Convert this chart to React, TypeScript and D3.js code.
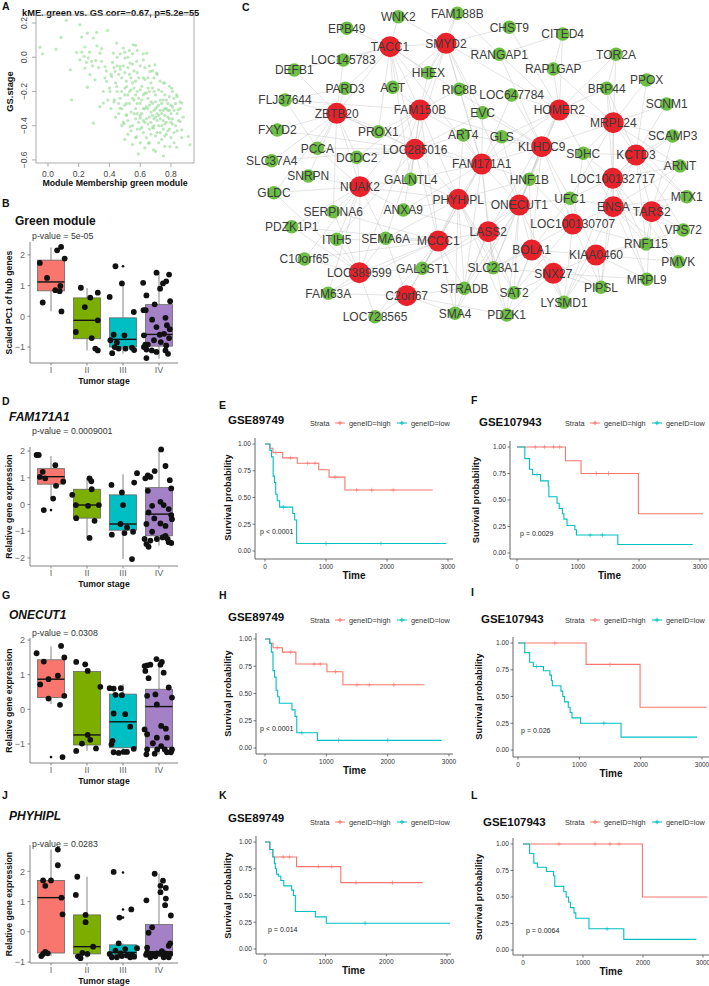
import React from "react";
import * as d3 from "d3";

const FONT = "'Liberation Sans', Arial, Helvetica, sans-serif";

// ---------- Panel A: module membership vs gene significance ----------
const MM_GS: [number, number][] = [
  [-0.052,0.058],[-0.035,0.02],[0.052,0.048],[0.085,0.116],[0.119,0.216],[0.208,0.19],[0.219,0.118],[0.145,-0.073],
  [0.154,-0.249],[0.256,0.141],[0.317,0.145],[0.319,0.067],[0.295,0.112],[0.388,0.157],[0.187,0.028],[0.208,-0.015],
  [0.234,0.005],[0.262,-0.005],[0.284,-0.024],[0.241,-0.063],[0.273,-0.102],[0.256,-0.175],[0.306,-0.132],[0.338,0.024],
  [0.349,-0.024],[0.371,-0.054],[0.382,-0.141],[0.338,-0.288],[0.36,-0.268],[0.295,-0.385],[0.425,0.024],[0.447,0.083],
  [0.49,0.054],[0.555,0.073],[0.501,-0.005],[0.534,-0.034],[0.469,-0.054],[0.436,-0.083],[0.414,-0.112],[0.447,-0.171],
  [0.403,-0.2],[0.431,-0.249],[0.469,-0.298],[0.512,-0.337],[0.495,-0.389],[0.534,-0.405],[0.599,-0.356],[0.577,-0.463],
  [0.653,-0.502],[0.686,-0.415],[0.588,-0.565],[0.751,-0.577],[0.686,-0.541],[0.794,-0.522],[0.837,-0.526],[0.913,-0.463],
  [0.924,-0.512],[0.87,-0.424],[0.859,-0.376],[0.848,-0.307],[0.87,-0.268],[0.837,-0.22],[0.805,-0.181],[0.751,-0.151],
  [0.707,-0.093],[0.696,-0.044],[0.664,-0.083],[0.62,-0.015],[0.577,-0.024],[0.642,0.024],[0.512,-0.171],
  [0.48,-0.12],[0.5,-0.18],[0.52,-0.22],[0.53,-0.1],[0.55,-0.15],[0.56,-0.25],[0.57,-0.3],[0.58,-0.2],[0.59,-0.12],
  [0.6,-0.27],[0.61,-0.33],[0.62,-0.22],[0.63,-0.38],[0.64,-0.29],[0.65,-0.18],[0.66,-0.35],[0.67,-0.26],[0.68,-0.41],
  [0.69,-0.31],[0.7,-0.22],[0.71,-0.37],[0.72,-0.28],[0.73,-0.44],[0.74,-0.33],[0.75,-0.25],[0.76,-0.39],[0.77,-0.3],
  [0.78,-0.35],[0.79,-0.42],[0.8,-0.28],[0.81,-0.36],[0.82,-0.31],[0.83,-0.4],[0.84,-0.33],
  [0.5,-0.28],[0.51,-0.34],[0.52,-0.06],[0.54,-0.32],[0.55,-0.4],[0.56,-0.08],[0.57,-0.36],[0.58,-0.42],[0.6,-0.05],
  [0.61,-0.17],[0.62,-0.44],[0.63,-0.13],[0.64,-0.47],[0.65,-0.24],[0.66,-0.42],[0.67,-0.15],[0.68,-0.34],[0.69,-0.2],
  [0.7,-0.46],[0.71,-0.29],[0.72,-0.19],[0.73,-0.36],[0.74,-0.48],[0.75,-0.31],[0.76,-0.22],[0.77,-0.45],[0.78,-0.27],
  [0.79,-0.36],[0.8,-0.47],[0.81,-0.39],[0.82,-0.24],[0.85,-0.37],
  [0.44,-0.15],[0.45,-0.2],[0.46,-0.1],[0.47,-0.24],[0.48,-0.3],[0.49,-0.05],[0.5,-0.22],[0.51,-0.14],[0.52,-0.37],
  [0.53,-0.27],[0.54,-0.19],[0.55,-0.04],[0.56,-0.33],[0.57,-0.14],[0.58,-0.27],[0.59,-0.38],[0.6,-0.19],[0.61,-0.25],
  [0.62,-0.3],[0.63,-0.21],[0.64,-0.36],[0.65,-0.3],[0.66,-0.2],[0.67,-0.38],[0.68,-0.27],[0.69,-0.4],[0.7,-0.3],
  [0.71,-0.44],[0.72,-0.34],[0.73,-0.25],[0.74,-0.4],[0.75,-0.37],[0.76,-0.3],[0.77,-0.38],[0.78,-0.43],[0.79,-0.31],
  [0.8,-0.38],[0.83,-0.27],
  [0.42,-0.03],[0.43,-0.26],[0.46,-0.33],[0.47,-0.07],[0.48,-0.2],[0.49,-0.38],[0.5,-0.09],[0.51,-0.27],[0.53,-0.2],
  [0.54,-0.43],[0.55,-0.24],[0.57,-0.22],[0.58,-0.33],[0.59,-0.24],[0.6,-0.34],[0.61,-0.41],[0.62,-0.12],[0.63,-0.3],
  [0.64,-0.21],[0.65,-0.39],[0.66,-0.28],[0.67,-0.32],[0.68,-0.18],[0.69,-0.36],[0.7,-0.26],[0.71,-0.33],[0.72,-0.4],
  [0.73,-0.31],[0.74,-0.27],[0.75,-0.42],[0.76,-0.34],[0.77,-0.25],[0.78,-0.31],[0.8,-0.33],[0.81,-0.29],[0.84,-0.43],
  [0.38,-0.08],[0.4,-0.18],[0.41,-0.3],[0.45,-0.05],[0.46,-0.27],[0.52,0.0],[0.54,-0.12],[0.56,-0.18],[0.58,-0.09],
  [0.6,-0.42],[0.62,-0.37],[0.63,-0.06],[0.65,-0.12],[0.67,-0.45],[0.69,-0.12],[0.7,-0.35],[0.72,-0.5],[0.74,-0.2],
  [0.76,-0.46],[0.79,-0.23],[0.82,-0.44],[0.86,-0.3],[0.88,-0.35],[0.57,-0.47],[0.66,-0.5],[0.6,-0.5],[0.52,-0.45],
  [0.48,-0.4],[0.44,-0.35],[0.53,0.04],[0.57,0.07],
  [0.35,0.05],[0.33,-0.06],[0.37,-0.12],[0.31,-0.02],[0.27,0.03],[0.25,-0.03],[0.22,0.03],[0.24,0.06],[0.29,-0.05],
  [0.36,-0.2],[0.39,-0.25],[0.41,-0.1],[0.43,-0.06],[0.45,0.0],[0.47,0.02],[0.5,0.03],[0.55,0.02],[0.58,0.04],
  [0.62,0.02],[0.66,-0.05],[0.68,-0.08],[0.71,-0.1],[0.73,-0.14],[0.76,-0.15],[0.79,-0.17],[0.81,-0.2],[0.84,-0.23],
  [0.86,-0.26],[0.5,-0.48],[0.55,-0.51],[0.63,-0.53],[0.7,-0.55],[0.76,-0.52],[0.82,-0.5],[0.87,-0.47]
];
const A_XTICKS = [0, 0.2, 0.4, 0.6, 0.8];
const A_YTICKS = [-0.6, -0.4, -0.2, 0.0, 0.2];

// ---------- Box plots (B, D, G, J) ----------
const STAGES = ["I", "II", "III", "IV"];
const STAGE_COLORS = ["#F8766D", "#7CAE00", "#00BFC4", "#A481C6"];
// [lowerWhisker, q1, median, q3, upperWhisker]
const B_BOX = [[0.16,0.83,1.12,1.83,2.24],[-1.11,-0.73,-0.13,0.6,0.92],[-1.22,-1.0,-0.75,-0.05,1.07],[-1.38,-0.97,-0.59,0.38,1.45]];
const B_OUT: [number, number][] = [[2,1.63]];
// [stage, value, jitter]
const B_PTS: [number, number, number][] = [
  [0,1.74,-0.31],[0,1.25,-0.11],[0,2.15,0.17],[0,2.26,0.28],[0,1.88,0.38],[0,0.99,0.26],[0,0.85,0.12],[0,0.82,0.24],[0,0.45,-0.23],[0,0.16,0.29],
  [1,0.93,-0.17],[1,0.77,0.3],[1,0.3,-0.06],[1,0.61,0.09],[1,-0.13,0.3],[1,-0.51,-0.31],[1,-0.71,0.13],[1,-1.11,0.3],[1,-1.05,0.23],
  [2,1.63,-0.21],[2,0.63,-0.37],[2,1.07,-0.03],[2,0.14,0.3],[2,-0.6,-0.26],[2,-0.62,0.04],[2,-0.78,-0.35],[2,-0.85,-0.17],[2,-1.0,-0.23],[2,-1.05,-0.12],[2,-1.05,0.07],[2,-1.2,-0.3],[2,-1.02,0.25],[2,-1.1,0.31],
  [3,1.09,-0.44],[3,1.42,-0.07],[3,1.36,0.28],[3,1.07,0.11],[3,1.14,0.2],[3,0.9,0.03],[3,0.68,-0.35],[3,0.49,0.31],[3,0.2,-0.43],[3,0.2,-0.37],[3,0.39,-0.12],
  [3,-0.11,-0.19],[3,-0.05,0.18],[3,-0.29,0.22],[3,-0.35,-0.07],[3,-0.62,-0.42],[3,-0.6,0.02],[3,-0.42,0.3],[3,-0.57,0.14],[3,-0.71,0.28],[3,-0.92,-0.38],
  [3,-0.92,-0.31],[3,-0.78,-0.14],[3,-0.84,0.05],[3,-0.95,0.2],[3,-1.08,-0.35],[3,-1.11,-0.2],[3,-1.16,-0.07],[3,-1.11,0.18],[3,-1.22,0.25],[3,-1.36,-0.35],[3,-1.0,-0.42]
];
const D_BOX = [[0.22,0.76,1.04,1.34,1.81],[-1.25,-0.51,-0.02,0.57,1.0],[-2.04,-0.96,-0.73,0.36,1.13],[-1.54,-1.17,-0.36,0.63,2.06]];
const D_OUT: [number, number][] = [[0,-0.21]];
const D_PTS: [number, number, number][] = [
  [0,1.85,-0.4],[0,1.85,-0.34],[0,1.47,0.12],[0,1.22,-0.23],[0,1.03,-0.31],[0,0.98,-0.16],[0,0.86,0.34],[0,0.7,0.14],[0,0.22,0.06],[0,-0.21,-0.2],
  [1,0.98,0.07],[1,0.87,0.12],[1,0.57,0.13],[1,0.36,-0.41],[1,-0.02,-0.31],[1,-0.05,0.03],[1,-0.02,0.33],[1,-0.51,-0.3],[1,-0.61,0.21],[1,-1.25,0.07],
  [2,1.17,0.39],[2,0.73,-0.32],[2,0.82,0.31],[2,0.45,-0.03],[2,-0.02,0],[2,-0.73,-0.07],[2,-0.86,0.11],[2,-1.02,0.28],[2,-1.13,-0.31],[2,-1.07,0.04],[2,-2.04,0.25],
  [3,2.06,0.06],[3,1.25,-0.12],[3,1.09,-0.31],[3,1.03,-0.24],[3,0.98,-0.38],[3,1.44,0.18],[3,0.91,0.3],[3,0.6,0.34],[3,0.51,-0.31],[3,0.1,0.04],[3,-0.02,0.13],
  [3,-0.05,-0.19],[3,-0.3,-0.29],[3,-0.17,0.27],[3,-0.4,0.34],[3,-0.52,-0.13],[3,-0.55,0.36],[3,-0.73,-0.35],[3,-0.71,0.04],[3,-0.8,0.18],[3,-1.02,-0.19],
  [3,-1.17,0.18],[3,-1.23,0.1],[3,-1.29,-0.06],[3,-1.35,-0.24],[3,-1.48,-0.35],[3,-1.29,0.24],[3,-1.44,0.34],[3,-1.58,-0.29],[3,-1.29,-0.4],[3,-1.41,0.27]
];
const G_BOX = [[0.15,0.34,0.87,1.43,1.82],[-1.2,-1.03,-0.74,1.09,1.09],[-1.24,-1.11,-0.36,0.44,0.73],[-1.3,-1.11,0.08,0.58,1.45]];
const G_OUT: [number, number][] = [[0,-1.38]];
const G_PTS: [number, number, number][] = [
  [0,1.62,-0.4],[0,1.83,0.28],[0,1.5,0.37],[0,1.38,-0.2],[0,0.97,0.19],[0,0.87,-0.07],[0,0.72,-0.3],[0,0.39,0.37],[0,0.31,-0.07],[0,0.13,0.25],[0,-1.38,0.32],
  [1,1.37,-0.3],[1,1.3,-0.05],[1,1.11,0.02],[1,0.65,0.37],[1,-0.74,0.02],[1,-0.88,0.09],[1,-0.99,-0.14],[1,-1.13,0.25],[1,-1.2,-0.3],
  [2,0.61,-0.37],[2,0.6,-0.26],[2,0.61,-0.06],[2,0.42,-0.21],[2,0.41,-0.03],[2,-0.12,-0.26],[2,-0.14,0.06],[2,-0.5,0.2],[2,-0.91,-0.29],[2,-1.01,-0.32],
  [2,-1.24,-0.26],[2,-1.26,-0.12],[2,-1.23,0.02],[2,-1.23,0.11],[2,-1.14,0.3],
  [3,1.45,-0.07],[3,1.37,0.08],[3,1.29,0.04],[3,1.06,0.13],[3,1.29,-0.24],[3,1.11,-0.38],[3,1.25,-0.4],[3,1.27,-0.33],[3,0.9,-0.29],[3,0.63,0.27],
  [3,0.34,0.36],[3,0.43,-0.1],[3,0.39,-0.33],[3,0.14,-0.06],[3,-0.58,-0.4],[3,-0.72,-0.33],[3,-0.48,0.06],[3,-0.56,0.19],[3,-0.82,0.22],[3,-0.82,-0.06],
  [3,-0.98,-0.17],[3,-1.06,0.06],[3,-1.16,-0.33],[3,-1.16,0.16],[3,-1.24,0.33],[3,-1.16,0.36],[3,-1.3,-0.35],[3,-1.28,-0.12],[3,-1.24,0.22],[3,-1.16,-0.05]
];
const J_BOX = [[-0.8,-0.7,1.13,1.7,2.72],[-0.87,-0.73,-0.49,0.56,1.82],[-0.84,-0.76,-0.68,-0.43,-0.38],[-0.84,-0.78,-0.66,0.24,1.92]];
const J_OUT: [number, number][] = [[2,1.96],[2,0.74],[2,0.47]];
const J_PTS: [number, number, number][] = [
  [0,2.72,0.19],[0,2.2,0.19],[0,1.7,-0.22],[0,1.7,0],[0,1.52,-0.16],[0,1.13,0.29],[0,0.58,0.32],[0,-0.66,-0.16],[0,-0.71,-0.09],[0,-0.73,-0.22],[0,-0.8,-0.27],
  [1,1.82,-0.27],[1,1.22,-0.31],[1,0.56,-0.04],[1,0.32,-0.04],[1,-0.49,0.17],[1,-0.7,-0.13],[1,-0.81,-0.25],[1,-0.87,-0.18],[1,-0.73,0.01],
  [2,1.98,-0.26],[2,0.74,0.23],[2,0.47,-0.1],[2,-0.38,-0.12],[2,-0.62,-0.21],[2,-0.57,0.06],[2,-0.54,0.39],[2,-0.84,-0.31],[2,-0.84,-0.17],[2,-0.8,-0.03],
  [2,-0.78,0.11],[2,-0.76,0.25],[2,-0.82,0.31],[2,-0.84,0.2],[2,-0.71,-0.07],[2,-0.73,-0.37],
  [3,1.92,-0.12],[3,1.69,0.11],[3,1.52,0.04],[3,1.45,0.19],[3,1.31,0.04],[3,1.04,-0.35],[3,1.1,0.19],[3,0.88,0.17],[3,0.54,0.33],[3,0.15,-0.19],
  [3,-0.03,-0.29],[3,-0.38,0.31],[3,-0.46,0.27],[3,-0.52,-0.33],[3,-0.68,-0.33],[3,-0.73,-0.19],[3,-0.71,-0.06],[3,-0.73,0.04],[3,-0.71,0.17],[3,-0.73,0.31],
  [3,-0.84,-0.24],[3,-0.81,-0.1],[3,-0.84,0.13],[3,-0.84,0.27],[3,-0.76,-0.36],[3,-0.64,0.08]
];

// ---------- Panel C: co-expression network ----------
// [gene, layoutX, layoutY, isHub]
const NODES: [string, number, number, number][] = [
  ["WNK2",158.3,16.7,0],["FAM188B",217.3,13.3,0],["EPB49",106.7,28.3,0],["CHST9",269.3,27.3,0],["CITED4",322.7,34,0],
  ["TACC1",150,46.7,1],["SMYD2",206,43.3,1],["LOC145783",103.3,60,0],["RANGAP1",259.3,54.3,0],["TOR2A",376,54.3,0],
  ["DEFB1",54.3,70,0],["HHEX",188.3,72.7,0],["RAP1GAP",313.3,69,0],["PPOX",406.7,80,0],["PARD3",105,88.3,0],
  ["AGT",152.7,87.3,0],["RIC8B",219.3,89.3,0],["BRP44",366.7,88.3,0],["LOC647784",271.7,95,0],["FLJ37644",45,100,0],
  ["ZBTB20",96.7,113.3,1],["FAM150B",180,110,1],["EVC",242.7,112.7,0],["HOMER2",319.3,110,1],["SCNM1",426.7,104,0],
  ["MRPL24",373.3,122.7,1],["FXYD2",37.3,130,0],["PROX1",138.3,131.7,0],["ART4",223.3,135,0],["GLS",261.7,136.7,0],
  ["SCAMP3",432.7,136,0],["PCCA",77.3,148.3,0],["LOC285016",175,149.3,1],["KLHDC9",301.7,146.7,1],["SDHC",343.3,153.3,0],
  ["KCTD3",396,155,1],["SLC37A4",31.7,160.7,0],["DCDC2",116.7,157.3,0],["FAM171A1",241.7,164,1],["ARNT",440,166,0],
  ["SNRPN",68.3,176,0],["GALNTL4",170.7,179.3,0],["HNF1B",289.3,179.3,0],["LOC100132717",372.7,178.3,1],["NUAK2",120,186.7,1],
  ["GLDC",34,192.7,0],["UFC1",330,198.3,0],["MTX1",446.7,196.7,0],["PHYHIPL",218.3,199.3,1],["ONECUT1",279.3,205,1],
  ["ENSA",373.3,206.7,1],["TARS2",411.7,211.7,1],["SERPINA6",93.3,211.7,0],["ANXA9",163.3,210,0],["PDZK1P1",51.7,226.7,0],
  ["LOC100130707",332.7,224,1],["LASS2",248.3,231.7,1],["VPS72",443.3,230,0],["ITIH5",96.7,239.3,0],["SEMA6A",145.7,238.3,0],
  ["MCCC1",198.3,241,1],["RNF115",406,244,0],["BOLA1",291.7,250,1],["KIAA0460",356,255,1],["C10orf65",64.3,259,0],
  ["PMVK",438.3,261.7,0],["LOC389599",119.3,272.7,1],["GAL3ST1",182.3,268.3,0],["SLC23A1",253.3,267.7,0],["SNX27",313.3,273.3,1],
  ["MRPL9",406.7,279.3,0],["PIPSL",361,287.3,0],["FAM63A",88.3,293.3,0],["C2orf67",166.7,295.7,1],["STRADB",224.3,288.3,0],
  ["SAT2",274,292.7,0],["LYSMD1",324,302.3,0],["LOC728565",135,316.7,0],["SMA4",215,313.3,0],["PDZK1",266.7,315,0]
];
// [node, neighbours]
const EDGES: [string, string][] = [
  ["TACC1","WNK2 EPB49 LOC145783 HHEX AGT PARD3 FAM150B ZBTB20 PROX1 LOC285016 FAM171A1 GALNTL4 SMYD2 KLHDC9 DEFB1"],
  ["SMYD2","WNK2 FAM188B CHST9 RANGAP1 HHEX RIC8B FAM150B LOC285016 FAM171A1 ONECUT1 EVC HOMER2 AGT"],
  ["ZBTB20","DEFB1 FLJ37644 FXYD2 PARD3 PCCA DCDC2 PROX1 NUAK2 SLC37A4 LOC285016 SNRPN SERPINA6 LOC145783 FAM171A1 GLDC"],
  ["FAM150B","AGT HHEX RIC8B PROX1 ART4 GALNTL4 PHYHIPL NUAK2 LOC389599 MCCC1 DCDC2 LOC285016 FLJ37644 KLHDC9"],
  ["HOMER2","RAP1GAP RANGAP1 CITED4 LOC647784 GLS SDHC BRP44 KLHDC9 ONECUT1 LASS2 HNF1B MRPL24 TOR2A FAM171A1 CHST9"],
  ["MRPL24","PPOX BRP44 SCNM1 TOR2A SCAMP3 KCTD3 SDHC ARNT ENSA UFC1 MTX1 LOC100132717 KLHDC9 RAP1GAP"],
  ["LOC285016","PROX1 PCCA DCDC2 GALNTL4 ANXA9 ITIH5 SEMA6A MCCC1 PHYHIPL EVC ART4 FAM171A1 SLC37A4 FXYD2"],
  ["KLHDC9","GLS EVC SDHC HNF1B UFC1 LOC100130707 BOLA1 ONECUT1 ART4 LOC647784 SLC23A1 FAM171A1 RANGAP1"],
  ["KCTD3","SCAMP3 ARNT MTX1 SDHC VPS72 RNF115 TARS2 ENSA PPOX SCNM1 LOC100132717 BRP44"],
  ["FAM171A1","ART4 GLS EVC HNF1B GALNTL4 ANXA9 LASS2 MCCC1 GAL3ST1 SLC23A1 RIC8B LOC647784 STRADB PHYHIPL ONECUT1"],
  ["LOC100132717","SDHC UFC1 BRP44 ARNT RNF115 PIPSL MRPL9 PMVK LYSMD1 SCAMP3 ENSA"],
  ["NUAK2","SNRPN GLDC SERPINA6 PDZK1P1 ITIH5 SEMA6A GALNTL4 DCDC2 C10orf65 FAM63A ANXA9 LOC389599 PHYHIPL PCCA"],
  ["PHYHIPL","GALNTL4 ANXA9 SEMA6A GAL3ST1 STRADB SMA4 SLC23A1 HNF1B SAT2 PDZK1 ART4 ONECUT1 MCCC1"],
  ["ONECUT1","HNF1B UFC1 SLC23A1 SAT2 PDZK1 STRADB GAL3ST1 SMA4 LYSMD1 GLS LASS2 BOLA1"],
  ["ENSA","UFC1 MTX1 VPS72 RNF115 PIPSL MRPL9 PMVK LYSMD1 SDHC ARNT TARS2"],
  ["TARS2","MTX1 VPS72 RNF115 PMVK MRPL9 ARNT SCAMP3"],
  ["LOC100130707","UFC1 HNF1B SLC23A1 SAT2 LYSMD1 PIPSL RNF115 SDHC ENSA"],
  ["LASS2","SLC23A1 STRADB GAL3ST1 SAT2 PDZK1 SMA4 HNF1B ANXA9 MCCC1"],
  ["MCCC1","SEMA6A ITIH5 GAL3ST1 STRADB SMA4 LOC728565 FAM63A C10orf65 PDZK1P1 SERPINA6 LOC389599 C2orf67"],
  ["BOLA1","SLC23A1 SAT2 PDZK1 LYSMD1 PIPSL UFC1 HNF1B KIAA0460"],
  ["KIAA0460","PIPSL MRPL9 RNF115 LYSMD1 PMVK UFC1 VPS72 SNX27"],
  ["LOC389599","FAM63A C10orf65 ITIH5 PDZK1P1 LOC728565 SEMA6A GAL3ST1 SERPINA6 GLDC"],
  ["SNX27","LYSMD1 PIPSL SAT2 PDZK1 SLC23A1 MRPL9"],
  ["C2orf67","LOC728565 SMA4 STRADB GAL3ST1 FAM63A PDZK1 SEMA6A"],
  ["FAM188B","HHEX RANGAP1"],["CITED4","RANGAP1 RAP1GAP"],["TOR2A","RAP1GAP BRP44"],["FLJ37644","PARD3 PCCA"]
];

// ---------- Kaplan-Meier curves: [time, survival] steps ----------
const E_HIGH = [[0,1],[80,0.96],[130,0.92],[290,0.87],[530,0.82],[880,0.76],[1050,0.69],[1310,0.57]];
const E_LOW = [[0,1],[80,0.94],[107,0.88],[134,0.7],[155,0.64],[176,0.53],[200,0.47],[240,0.41],[455,0.35],[487,0.29],[519,0.07]];
const F_HIGH = [[0,1],[795,0.87],[1050,0.75],[1990,0.37]];
const F_LOW = [[0,1],[128,0.89],[205,0.79],[256,0.74],[385,0.68],[513,0.63],[523,0.53],[656,0.47],[692,0.42],[744,0.37],[769,0.32],[821,0.26],[949,0.22],[974,0.17],[1653,0.08]];
const H_HIGH = [[0,1],[78,0.96],[130,0.92],[285,0.88],[503,0.77],[1010,0.7],[1270,0.58]];
const H_LOW = [[0,1],[78,0.96],[104,0.88],[130,0.71],[155,0.65],[181,0.53],[207,0.47],[233,0.41],[440,0.35],[490,0.29],[518,0.14],[855,0.07]];
const I_HIGH = [[0,1],[1110,0.8],[1990,0.4]];
const I_LOW = [[0,1],[110,0.91],[190,0.82],[250,0.78],[415,0.74],[520,0.7],[545,0.65],[560,0.6],[700,0.55],[730,0.5],[760,0.45],[820,0.4],[850,0.35],[880,0.3],[1020,0.25],[1680,0.12]];
const K_HIGH = [[0,1],[80,0.93],[130,0.86],[520,0.77],[1250,0.62]];
const K_LOW = [[0,1],[80,0.93],[130,0.86],[155,0.8],[170,0.75],[190,0.7],[220,0.68],[260,0.64],[310,0.59],[440,0.55],[470,0.5],[500,0.35],[830,0.3],[1010,0.24]];
const L_HIGH = [[0,1],[1990,0.5]];
const L_LOW = [[0,1],[110,0.91],[180,0.82],[240,0.78],[390,0.74],[510,0.7],[530,0.6],[680,0.55],[720,0.5],[760,0.45],[790,0.4],[850,0.35],[880,0.3],[1100,0.2],[1680,0.1]];
// follow-up end and censor times
const KM_ENDS = { E: [2750, 2970], F: [3050, 2880], H: [2600, 2880], I: [3080, 2920], K: [2600, 3050], L: [3070, 2890] };
const E_CENS = [[180,420,700,820,1150,1500,1750,2100],[300,1000,1900]];
const F_CENS = [[300,450,600,700,1300,1500],[330,1200,1400]];
const H_CENS = [[200,420,800,900,1150,1500,1700,2100],[600,1200,2000]];
const I_CENS = [[600,1500],[300,1400]];
const K_CENS = [[300,400,880,1100,1500,2100],[1650]];
const L_CENS = [[600,1200,1450,1600],[1400]];
const KM_XTICKS = [0, 1000, 2000, 3000];
const KM_YTICKS = [0, 0.25, 0.5, 0.75, 1];
const RED = "#F8766D";
const CYAN = "#00BFC4";

// ================= components =================
function PanelA() {
  const x = d3.scaleLinear().domain([-0.078, 0.95]).range([36, 194]);
  const y = d3.scaleLinear().domain([-0.618, 0.247]).range([163, 15]);
  const f = d3.format(".1f");
  return (
    <g fontFamily={FONT}>
      <text x={22} y={16} fontSize={9.3} fontWeight="bold" fill="#111">kME. green vs. GS cor=−0.67, p=5.2e−55</text>
      <rect x={x(-0.078)} y={y(0.247)} width={x(0.95) - x(-0.078)} height={y(-0.618) - y(0.247)} fill="none" stroke="#999" strokeWidth={0.8} />
      {MM_GS.map(([a, b], i) => (
        <circle key={i} cx={x(a)} cy={y(b)} r={1.6} fill="#9ADC9A" fillOpacity={0.65} />
      ))}
      {A_XTICKS.map((t) => (
        <g key={t}>
          <line x1={x(t)} x2={x(t)} y1={163} y2={167} stroke="#999" strokeWidth={0.8} />
          <text x={x(t)} y={177} textAnchor="middle" fontSize={8.5} fill="#444">{f(t)}</text>
        </g>
      ))}
      {A_YTICKS.map((t) => (
        <g key={t}>
          <line x1={36} x2={32} y1={y(t)} y2={y(t)} stroke="#999" strokeWidth={0.8} />
          <text transform={`translate(27,${y(t)}) rotate(-90)`} textAnchor="middle" fontSize={8.5} fill="#444">{f(t)}</text>
        </g>
      ))}
      <text transform={`translate(13,${y(-0.2)}) rotate(-90)`} textAnchor="middle" fontSize={9.3} fontWeight="bold" fill="#111">GS.stage</text>
      <text x={115} y={186} textAnchor="middle" fontSize={8.8} fontWeight="bold" fill="#111">Module Membership  green module</text>
    </g>
  );
}

type BoxProps = {
  title: string; italic: boolean; pval: string; ylab: string;
  box: number[][]; pts: [number, number, number][]; out: [number, number][];
  domain: [number, number]; range: [number, number]; ticks: number[];
  titleY: number; pY: number;
};

function BoxPanel(p: BoxProps) {
  const xb = d3.scaleBand().domain(STAGES).range([33, 177]).paddingInner(0.25).paddingOuter(0.125);
  const y = d3.scaleLinear().domain(p.domain).range(p.range);
  const bw = xb.bandwidth();
  const step = xb.step();
  const cx = (i: number) => (xb(STAGES[i]) as number) + bw / 2;
  const fmt = d3.format("d");
  const axisY = p.range[0];
  return (
    <g fontFamily={FONT}>
      <text x={p.italic ? 9 : 15} y={p.titleY} fontSize={12} fontWeight="bold" fontStyle={p.italic ? "italic" : "normal"} fill="#111">{p.title}</text>
      <text x={32} y={p.pY} fontSize={8.8} fill="#333">{p.pval}</text>
      {p.box.map((b, i) => (
        <g key={i}>
          <line x1={cx(i)} x2={cx(i)} y1={y(b[0])} y2={y(b[1])} stroke="#777" strokeWidth={0.9} />
          <line x1={cx(i)} x2={cx(i)} y1={y(b[3])} y2={y(b[4])} stroke="#777" strokeWidth={0.9} />
          <rect x={xb(STAGES[i])} y={y(b[3])} width={bw} height={y(b[1]) - y(b[3])} fill={STAGE_COLORS[i]} stroke="#666" strokeWidth={0.8} />
          <line x1={xb(STAGES[i])} x2={(xb(STAGES[i]) as number) + bw} y1={y(b[2])} y2={y(b[2])} stroke="#111" strokeWidth={1.4} />
        </g>
      ))}
      {p.out.map(([s, v], i) => (
        <circle key={"o" + i} cx={cx(s)} cy={y(v)} r={1.3} fill="#111" />
      ))}
      {p.pts.map(([s, v, j], i) => (
        <circle key={"p" + i} cx={cx(s) + j * step} cy={y(v)} r={2.9} fill="#111" />
      ))}
      <line x1={30} x2={30} y1={p.range[1]} y2={axisY} stroke="#777" strokeWidth={0.9} />
      <line x1={30} x2={178} y1={axisY} y2={axisY} stroke="#777" strokeWidth={0.9} />
      {p.ticks.map((t) => (
        <g key={t}>
          <line x1={27.5} x2={30} y1={y(t)} y2={y(t)} stroke="#777" strokeWidth={0.9} />
          <text x={25} y={y(t) + 3.2} textAnchor="end" fontSize={9} fill="#666">{fmt(t)}</text>
        </g>
      ))}
      {STAGES.map((s, i) => (
        <g key={s}>
          <line x1={cx(i)} x2={cx(i)} y1={axisY} y2={axisY + 2.5} stroke="#777" strokeWidth={0.9} />
          <text x={cx(i)} y={axisY + 9.5} textAnchor="middle" fontSize={9} fill="#666">{s}</text>
        </g>
      ))}
      <text transform={`translate(12,${(p.range[0] + p.range[1]) / 2}) rotate(-90)`} textAnchor="middle" fontSize={8.7} fontWeight="bold" fill="#111">{p.ylab}</text>
      <text x={104} y={axisY + 20.5} textAnchor="middle" fontSize={8.7} fontWeight="bold" fill="#111">Tumor stage</text>
    </g>
  );
}

function Network() {
  const x = d3.scaleLinear().domain([0, 469]).range([240, 709]);
  const y = d3.scaleLinear().domain([0, 469]).range([0, 469]);
  const pos = new Map(NODES.map((n) => [n[0], n]));
  const lines: [string, string][] = [];
  EDGES.forEach(([h, list]) => list.split(" ").forEach((t) => lines.push([h, t])));
  return (
    <g fontFamily={FONT}>
      {lines.map(([a, b], i) => {
        const na = pos.get(a)!, nb = pos.get(b)!;
        return <line key={i} x1={x(na[1])} y1={y(na[2])} x2={x(nb[1])} y2={y(nb[2])} stroke="#c4c4c4" strokeWidth={0.55} strokeOpacity={0.85} />;
      })}
      {NODES.map((n) => (
        <circle key={n[0]} cx={x(n[1])} cy={y(n[2])} r={n[3] ? 10.5 : 6.8} fill={n[3] ? "#E8222A" : "#6DBE45"} />
      ))}
      {NODES.map((n) => (
        <text key={"t" + n[0]} x={x(n[1])} y={y(n[2]) + 4.2} textAnchor="middle" fontSize={12} fill="#3c3c3c">{n[0]}</text>
      ))}
    </g>
  );
}

type KMProps = {
  title: string; titleX: number; titleY: number; legX: number; legY: number;
  x0: number; x3: number; y0: number; y1: number; axisX: number; axisRight: number; axisY: number; axisTop: number;
  high: number[][]; low: number[][]; ends: number[]; cens: number[][]; pText: string; pT: number; ylabX: number;
};

function KM(p: KMProps) {
  const x = d3.scaleLinear().domain([0, 3000]).range([p.x0, p.x3]);
  const y = d3.scaleLinear().domain([0, 1]).range([p.y0, p.y1]);
  const line = d3.line<number[]>().x((d) => x(d[0])).y((d) => y(d[1])).curve(d3.curveStepAfter);
  const survAt = (steps: number[][], t: number) => {
    let s = 1;
    for (const [tt, ss] of steps) if (tt <= t) s = ss;
    return s;
  };
  const curves = [
    { steps: p.high, end: p.ends[0], cens: p.cens[0], col: RED },
    { steps: p.low, end: p.ends[1], cens: p.cens[1], col: CYAN },
  ];
  const yf = d3.format(".2f");
  const plus = (cx: number, cy: number) => `M${cx - 2.2},${cy}h4.4M${cx},${cy - 2.2}v4.4`;
  return (
    <g fontFamily={FONT}>
      <text x={p.titleX} y={p.titleY + 4} fontSize={11.5} fontWeight="bold" fill="#111">{p.title}</text>
      <g fontSize={7.3} fill="#333">
        <text x={p.legX} y={p.legY + 2.6}>Strata</text>
        <line x1={p.legX + 25} x2={p.legX + 35} y1={p.legY} y2={p.legY} stroke={RED} strokeWidth={1} />
        <path d={plus(p.legX + 30, p.legY)} stroke={RED} strokeWidth={1} />
        <text x={p.legX + 39} y={p.legY + 2.6}>geneID=high</text>
        <line x1={p.legX + 87} x2={p.legX + 97} y1={p.legY} y2={p.legY} stroke={CYAN} strokeWidth={1} />
        <path d={plus(p.legX + 92, p.legY)} stroke={CYAN} strokeWidth={1} />
        <text x={p.legX + 101} y={p.legY + 2.6}>geneID=low</text>
      </g>
      {curves.map((c, i) => {
        const pts = [...c.steps, [c.end, c.steps[c.steps.length - 1][1]]];
        return (
          <g key={i}>
            <path d={line(pts) as string} fill="none" stroke={c.col} strokeWidth={1.1} />
            {c.cens.map((t, k) => (
              <path key={k} d={plus(x(t), y(survAt(c.steps, t)))} stroke={c.col} strokeWidth={0.6} />
            ))}
          </g>
        );
      })}
      <line x1={p.axisX} x2={p.axisX} y1={p.axisTop} y2={p.axisY} stroke="#555" strokeWidth={0.9} />
      <line x1={p.axisX} x2={p.axisRight} y1={p.axisY} y2={p.axisY} stroke="#555" strokeWidth={0.9} />
      {KM_YTICKS.map((t) => (
        <g key={t}>
          <line x1={p.axisX - 2.5} x2={p.axisX} y1={y(t)} y2={y(t)} stroke="#555" strokeWidth={0.8} />
          <text x={p.axisX - 4} y={y(t) + 2.4} textAnchor="end" fontSize={6.7} fill="#333">{yf(t)}</text>
        </g>
      ))}
      {KM_XTICKS.map((t) => (
        <g key={t}>
          <line x1={x(t)} x2={x(t)} y1={p.axisY} y2={p.axisY + 2.5} stroke="#555" strokeWidth={0.8} />
          <text x={x(t)} y={p.axisY + 9.5} textAnchor="middle" fontSize={6.5} fill="#333">{t}</text>
        </g>
      ))}
      <text x={x(p.pT)} y={y(0.18) + 2.5} fontSize={7} fill="#222">{p.pText}</text>
      <text transform={`translate(${p.ylabX},${(y(0) + y(1)) / 2}) rotate(-90)`} textAnchor="middle" fontSize={9.3} fontWeight="bold" fill="#111">Survival probability</text>
      <text x={(p.axisX + p.axisRight) / 2} y={p.axisY + 20} textAnchor="middle" fontSize={10} fontWeight="bold" fill="#111">Time</text>
    </g>
  );
}

const LETTERS: [string, number, number][] = [
  ["A", 2, 10], ["B", 2, 207], ["C", 242, 11], ["D", 2, 405], ["E", 219, 409], ["F", 471, 404],
  ["G", 2, 599], ["H", 219, 599], ["I", 471, 596], ["J", 2, 799], ["K", 219, 799], ["L", 471, 799],
];

export default function App() {
  return (
    <svg width={709} height={986} style={{ position: "absolute", left: 0, top: 0, background: "#fff" }}>
      <rect x={0} y={0} width={709} height={986} fill="#fff" />
      <Network />
      <PanelA />
      <BoxPanel title="Green module" italic={false} pval="p-value = 5e-05" ylab="Scaled PC1 of hub genes"
        box={B_BOX} pts={B_PTS} out={B_OUT} domain={[-1.52, 2.42]} range={[363, 242]} ticks={[-1, 0, 1, 2]} titleY={225} pY={238.5} />
      <BoxPanel title="FAM171A1" italic={true} pval="p-value = 0.0009001" ylab="Relative gene expression"
        box={D_BOX} pts={D_PTS} out={D_OUT} domain={[-2.3, 2.15]} range={[566, 447]} ticks={[-2, -1, 0, 1, 2]} titleY={421} pY={433.5} />
      <BoxPanel title="ONECUT1" italic={true} pval="p-value = 0.0308" ylab="Relative gene expression"
        box={G_BOX} pts={G_PTS} out={G_OUT} domain={[-1.55, 2.06]} range={[763, 638]} ticks={[-1, 0, 1, 2]} titleY={619} pY={635.5} />
      <BoxPanel title="PHYHIPL" italic={true} pval="p-value = 0.0283" ylab="Relative gene expression"
        box={J_BOX} pts={J_PTS} out={J_OUT} domain={[-1.03, 2.87]} range={[963, 845]} ticks={[-1, 0, 1, 2]} titleY={820} pY={846.5} />

      <KM title="GSE89749" titleX={228} titleY={420} legX={310} legY={423} x0={265} x3={448} y0={551} y1={444}
        axisX={255} axisRight={453} axisY={559} axisTop={438} high={E_HIGH} low={E_LOW} ends={KM_ENDS.E} cens={E_CENS}
        pText="p < 0.0001" pT={-80} ylabX={231} />
      <KM title="GSE107943" titleX={479} titleY={422} legX={565} legY={423} x0={517} x3={700} y0={553} y1={447}
        axisX={510} axisRight={709} axisY={559} axisTop={441} high={F_HIGH} low={F_LOW} ends={KM_ENDS.F} cens={F_CENS}
        pText="p = 0.0029" pT={50} ylabX={479} />
      <KM title="GSE89749" titleX={228} titleY={617} legX={310} legY={620} x0={265} x3={449} y0={748} y1={639}
        axisX={256} axisRight={453} axisY={754} axisTop={633} high={H_HIGH} low={H_LOW} ends={KM_ENDS.H} cens={H_CENS}
        pText="p < 0.0001" pT={-80} ylabX={231} />
      <KM title="GSE107943" titleX={481} titleY={619} legX={565} legY={620} x0={518} x3={702} y0={750} y1={643}
        axisX={513} axisRight={709} axisY={757} axisTop={637} high={I_HIGH} low={I_LOW} ends={KM_ENDS.I} cens={I_CENS}
        pText="p = 0.026" pT={50} ylabX={482} />
      <KM title="GSE89749" titleX={228} titleY={818} legX={310} legY={822} x0={265} x3={447} y0={949} y1={842}
        axisX={256} axisRight={451} axisY={954} axisTop={836} high={K_HIGH} low={K_LOW} ends={KM_ENDS.K} cens={K_CENS}
        pText="p = 0.014" pT={50} ylabX={231} />
      <KM title="GSE107943" titleX={483} titleY={822} legX={565} legY={822} x0={523} x3={703} y0={950} y1={844}
        axisX={513} axisRight={709} axisY={955} axisTop={838} high={L_HIGH} low={L_LOW} ends={KM_ENDS.L} cens={L_CENS}
        pText="p = 0.0064" pT={50} ylabX={482} />

      {LETTERS.map(([l, x, y]) => (
        <text key={l} x={x} y={y} fontFamily={FONT} fontSize={10.5} fontWeight="bold" fill="#111">{l}</text>
      ))}
    </svg>
  );
}
